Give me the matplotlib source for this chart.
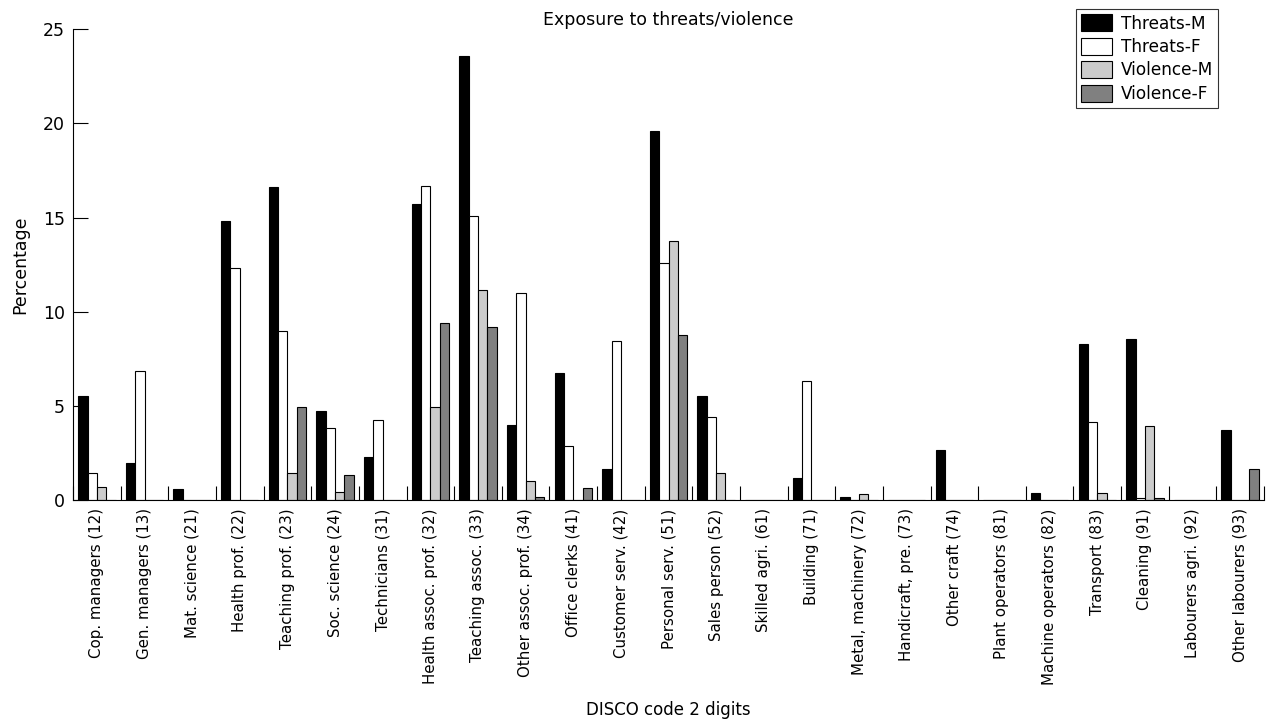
import numpy as np
import matplotlib
matplotlib.use('Agg')
import matplotlib.pyplot as plt
from matplotlib.ticker import FixedLocator

categories = ['Cop. managers (12)', 'Gen. managers (13)', 'Mat. science (21)',
              'Health prof. (22)', 'Teaching prof. (23)', 'Soc. science (24)',
              'Technicians (31)', 'Health assoc. prof. (32)', 'Teaching assoc. (33)',
              'Other assoc. prof. (34)', 'Office clerks (41)', 'Customer serv. (42)',
              'Personal serv. (51)', 'Sales person (52)', 'Skilled agri. (61)',
              'Building (71)', 'Metal, machinery (72)', 'Handicraft, pre. (73)',
              'Other craft (74)', 'Plant operators (81)', 'Machine operators (82)',
              'Transport (83)', 'Cleaning (91)', 'Labourers agri. (92)',
              'Other labourers (93)']

threats_m = [5.5, 1.95, 0.6, 14.8, 16.6, 4.75, 2.27, 15.7, 23.6, 4.0, 6.75, 1.65,
             19.6, 5.5, 0, 1.18, 0.18, 0, 2.66, 0, 0.38, 8.3, 8.53, 0, 3.72]
threats_f = [1.45, 6.87, 0, 12.3, 9.0, 3.8, 4.25, 16.68, 15.1, 10.98, 2.88, 8.46,
             12.6, 4.42, 0, 6.32, 0, 0, 0, 0, 0, 4.12, 0.09, 0, 0]
violence_m = [0.68, 0, 0, 0, 1.42, 0.45, 0, 4.96, 11.15, 1.01, 0, 0,
              13.77, 1.42, 0, 0, 0.3, 0, 0, 0, 0, 0.39, 3.93, 0, 0]
violence_f = [0, 0, 0, 0, 4.92, 1.33, 0, 9.42, 9.2, 0.18, 0.65, 0,
              8.76, 0, 0, 0, 0, 0, 0, 0, 0, 0, 0.09, 0, 1.63]

series = [('Threats-M', threats_m, 'black'),
          ('Threats-F', threats_f, 'white'),
          ('Violence-M', violence_m, '#cccccc'),
          ('Violence-F', violence_f, '#808080')]

fig = plt.figure(figsize=(12.66, 7.26), dpi=100)
ax = fig.add_axes([0.0577, 0.3113, 0.9407, 0.6484])

x = np.arange(len(categories))
w = 0.196
for j, (name, vals, col) in enumerate(series):
    ax.bar(x + (j - 1.5) * w, vals, w, color=col, edgecolor='black',
           linewidth=0.8, label=name)

ax.set_xlim(-0.5, len(categories) - 0.5)
ax.set_ylim(0, 25)
ax.spines['top'].set_visible(False)
ax.spines['right'].set_visible(False)
ax.spines['left'].set_bounds(0, 25)

ax.set_yticks([0, 5, 10, 15, 20, 25])
ax.tick_params(axis='y', direction='in', length=11, width=0.8, labelsize=12.5, pad=6)

ax.set_xticks(x)
ax.set_xticklabels(categories, rotation=90, fontsize=10.8)
ax.tick_params(axis='x', which='major', length=0, pad=6)
ax.xaxis.set_minor_locator(FixedLocator(np.arange(-0.5, len(categories), 1.0)))
ax.tick_params(axis='x', which='minor', direction='in', length=10, width=0.8)

ax.set_ylabel('Percentage', fontsize=12.5, labelpad=10)
ax.set_xlabel('DISCO code 2 digits', fontsize=12)
ax.xaxis.set_label_coords(0.5, -0.428)
ax.set_title('Exposure to threats/violence', fontsize=12.5, pad=-2)

leg = ax.legend(loc='upper right', bbox_to_anchor=(0.9614, 1.043), fontsize=12.2,
                frameon=True, fancybox=False, edgecolor='black',
                handlelength=1.85, handleheight=1.2, handletextpad=0.5,
                labelspacing=0.3, borderpad=0.3, borderaxespad=0)
leg.get_frame().set_linewidth(0.8)

fig.savefig('out.png', dpi=100)
